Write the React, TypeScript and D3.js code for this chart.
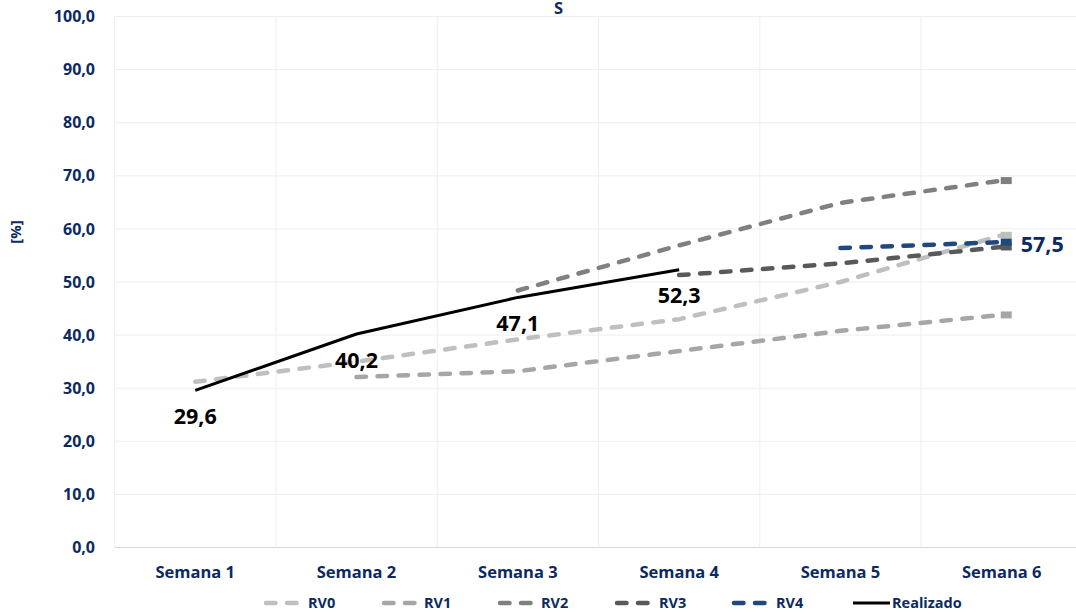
import React from "react";
import * as d3 from "d3";

const categories = ["Semana 1", "Semana 2", "Semana 3", "Semana 4", "Semana 5", "Semana 6"];
const yTicks = [0, 10, 20, 30, 40, 50, 60, 70, 80, 90, 100];

const rv0: (number | null)[] = [31.2, 35.0, 39.2, 43.0, 50.0, 58.8];
const rv1: (number | null)[] = [null, 32.1, 33.2, 37.0, 40.8, 43.8];
const rv2: (number | null)[] = [null, null, 48.4, 56.9, 64.9, 69.1];
const rv3: (number | null)[] = [null, null, null, 51.3, 53.5, 56.6];
const rv4: (number | null)[] = [null, null, null, null, 56.4, 57.5];
const realizado: (number | null)[] = [29.6, 40.2, 47.1, 52.3, null, null];

const seriesNames = ["RV0", "RV1", "RV2", "RV3", "RV4", "Realizado"];
const seriesColors = ["#bfbfbf", "#a6a6a6", "#808080", "#595959", "#1f497d", "#000000"];
const seriesData = [rv0, rv1, rv2, rv3, rv4, realizado];

const NAVY = "#0c2a62";
const FONT = "'Open Sans', 'DejaVu Sans', sans-serif";
const fmt = (v: number) => v.toFixed(1).replace(".", ",");

export default function App() {
  const W = 1076, H = 614;
  const left = 114.6, right = 1082.4, top = 16.5, bottom = 547.5;
  const x = d3.scalePoint<string>().domain(categories).range([left, right]).padding(0.5);
  const step = x.step();
  const y = d3.scaleLinear().domain([0, 100]).range([bottom, top]);

  const line = d3
    .line<number | null>()
    .defined((d) => d !== null)
    .x((_, i) => x(categories[i])!)
    .y((d) => y(d as number));

  const boundaries = d3.range(categories.length + 1).map((i) => left + i * step);

  const legendItems = [
    { sx: 264, tx: 308 },
    { sx: 382, tx: 424 },
    { sx: 498, tx: 541 },
    { sx: 615, tx: 659 },
    { sx: 732, tx: 776 },
    { sx: 851, tx: 892 },
  ];

  return (
    <svg
      width={W}
      height={H}
      style={{ position: "absolute", left: 0, top: 0, display: "block", background: "#fff" }}
    >
      {/* horizontal gridlines */}
      {yTicks.map((t) => (
        <line
          key={"h" + t}
          x1={left}
          x2={right}
          y1={y(t)}
          y2={y(t)}
          stroke={t === 0 ? "#d9d9d9" : "#eeeeee"}
          strokeWidth={1}
        />
      ))}
      {/* vertical gridlines */}
      {boundaries.map((bx, i) => (
        <line key={"v" + i} x1={bx} x2={bx} y1={top} y2={bottom} stroke="#eeeeee" strokeWidth={1} />
      ))}

      {/* title */}
      <text x={558.5} y={14} textAnchor="middle" fill={NAVY} fontFamily={FONT} fontWeight={700} fontSize={16.5}>
        S
      </text>

      {/* y tick labels */}
      {yTicks.map((t) => (
        <text
          key={"yt" + t}
          x={95}
          y={y(t)}
          dy="0.35em"
          textAnchor="end"
          fill={NAVY}
          fontFamily={FONT}
          fontWeight={700}
          fontSize={16}
        >
          {fmt(t)}
        </text>
      ))}
      <text
        transform={`translate(21,232) rotate(-90)`}
        textAnchor="middle"
        fill={NAVY}
        fontFamily={FONT}
        fontWeight={700}
        fontSize={15}
      >
        [%]
      </text>

      {/* x labels */}
      {categories.map((c) => (
        <text
          key={c}
          x={x(c)!}
          y={572}
          dy="0.35em"
          textAnchor="middle"
          fill={NAVY}
          fontFamily={FONT}
          fontWeight={700}
          fontSize={16.5}
        >
          {c}
        </text>
      ))}

      {/* series */}
      {seriesData.map((data, si) => {
        const isSolid = si === 5;
        const lastIdx = data.reduce((acc: number, d, i) => (d !== null ? i : acc), -1);
        return (
          <g key={seriesNames[si]}>
            <path
              d={line(data) || ""}
              fill="none"
              stroke={seriesColors[si]}
              strokeWidth={isSolid ? 3 : 4.5}
              strokeDasharray={isSolid ? undefined : "9.5 11.5"}
              strokeLinecap={isSolid ? "butt" : "round"}
              strokeLinejoin="round"
            />
            {!isSolid && lastIdx >= 0 && (
              <rect
                x={x(categories[lastIdx])! - 1}
                y={y(data[lastIdx] as number) - 3.5}
                width={11}
                height={7}
                fill={seriesColors[si]}
              />
            )}
          </g>
        );
      })}

      {/* Realizado labels */}
      {realizado.map((v, i) =>
        v === null ? null : (
          <text
            key={"rl" + i}
            x={x(categories[i])!}
            y={y(v) + 26}
            dy="0.35em"
            textAnchor="middle"
            fill="#000"
            fontFamily={FONT}
            fontWeight={700}
            fontSize={21.5}
          >
            {fmt(v)}
          </text>
        )
      )}
      {/* RV4 last label */}
      <text
        x={x(categories[5])! + 19}
        y={y(rv4[5] as number) + 2}
        dy="0.35em"
        textAnchor="start"
        fill={NAVY}
        fontFamily={FONT}
        fontWeight={700}
        fontSize={21.5}
      >
        {fmt(rv4[5] as number)}
      </text>

      {/* legend */}
      {legendItems.map((it, i) => (
        <g key={"lg" + i}>
          <line
            x1={it.sx + 2}
            x2={i === 5 ? it.sx + 39 : it.sx + 33}
            y1={603}
            y2={603}
            stroke={seriesColors[i]}
            strokeWidth={i === 5 ? 3 : 4.5}
            strokeDasharray={i === 5 ? undefined : "9.5 11.5"}
            strokeLinecap={i === 5 ? "butt" : "round"}
          />
          <text
            x={it.tx}
            y={603}
            dy="0.35em"
            fill={NAVY}
            fontFamily={FONT}
            fontWeight={700}
            fontSize={14.5}
          >
            {seriesNames[i]}
          </text>
        </g>
      ))}
    </svg>
  );
}
